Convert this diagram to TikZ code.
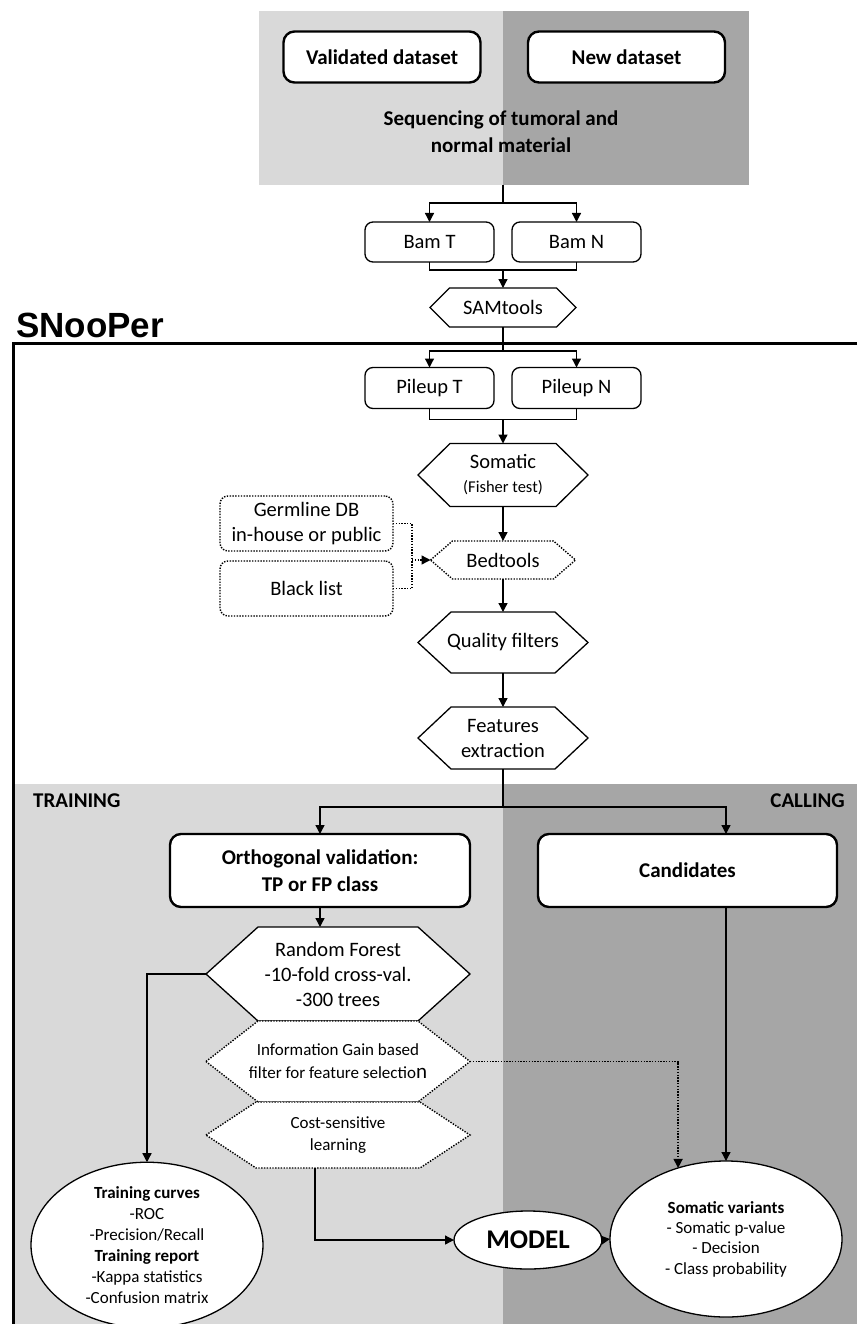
\documentclass[tikz,border=0pt]{standalone}
\usepackage{fontspec}
\setmainfont{Carlito}
\newfontfamily\headfont{Liberation Sans}
\usetikzlibrary{arrows.meta,calc,shapes.geometric}
\pgfdeclarelayer{back}
\pgfdeclarelayer{mid}
\pgfsetlayers{back,mid,main}
\definecolor{lightzone}{HTML}{D9D9D9}
\definecolor{darkzone}{HTML}{A6A6A6}

% hexagon outline around a named node: #2 = node, #3 = depth of the side points
\newcommand{\hexof}[3][]{%
  \begin{pgfonlayer}{mid}
    \draw[hexline,#1] (#2.west) -- ([xshift=#3]#2.north west) -- ([xshift=-#3]#2.north east)
      -- (#2.east) -- ([xshift=-#3]#2.south east) -- ([xshift=#3]#2.south west) -- cycle;
  \end{pgfonlayer}}

\begin{document}
\begin{tikzpicture}[x=1pt,y=-1pt,
  conn/.style={line width=1.3pt},
  arr/.style={conn,-{Triangle[length=9pt,width=9pt]}},
  fine dots/.style={line width=1.4pt,dash pattern=on 1.4pt off 1.4pt},
  dotarr/.style={fine dots,-{Triangle[length=9pt,width=9pt]}},
  dotconn/.style={fine dots},
  box/.style={draw,rounded corners=8pt,line width=1.3pt,fill=white,inner sep=0pt,outer sep=0pt,align=center},
  thickbox/.style={box,line width=2.4pt,rounded corners=11pt},
  dotbox/.style={box,fine dots},
  hexnode/.style={inner sep=0pt,outer sep=0pt,align=center},
  hexline/.style={draw,fill=white,line width=1.3pt},
  ovalnode/.style={ellipse,draw,fill=white,line width=1.3pt,inner sep=0pt,outer sep=0pt,align=center},
  txt/.style={font=\fontsize{20.5}{25}\selectfont},
  smalltxt/.style={font=\fontsize{17}{21}\selectfont},
  boldtxt/.style={font=\fontsize{21}{27}\selectfont\bfseries},
  leftcol/.style={fill=lightzone},
  rightcol/.style={fill=darkzone}]

\useasboundingbox (0,0) rectangle (857,1324);

% shaded zones
\begin{pgfonlayer}{back}
  \fill[leftcol]  (259,11) rectangle (503,185);
  \fill[rightcol] (503,11) rectangle (749,185);
  \fill[leftcol]  (13,784) rectangle (503,1324);
  \fill[rightcol] (503,784) rectangle (857,1324);
\end{pgfonlayer}

% SNooPer frame
\draw[line width=3pt,line join=miter] (857,343.5) -- (13.5,343.5) -- (13.5,1324);
\node[anchor=base west,inner sep=0pt,font=\headfont\bfseries\fontsize{35}{40}\selectfont] (snooper) at (16,337) {SNooPer};

% input data
\node[thickbox,boldtxt,minimum width=197pt,minimum height=51pt] (val) at (382,57) {Validated dataset};
\node[thickbox,boldtxt,minimum width=197pt,minimum height=51pt] (new) at (626.5,57) {New dataset};
\node[boldtxt,align=center,inner sep=0pt] (seq) at (501,131.5) {Sequencing of tumoral and\\normal material};
\coordinate (seqout) at (503,185);

\node[box,txt,minimum width=129pt,minimum height=40pt] (bamT) at (429.5,242) {Bam T};
\node[box,txt,minimum width=129pt,minimum height=40pt] (bamN) at (576.5,242) {Bam N};
\node[hexnode,txt,minimum width=146pt,minimum height=39pt] (sam) at (503,307.5) {SAMtools};
\hexof{sam}{19.5}

\draw[conn] (seqout) -- (503,203) coordinate (fork1);
\draw[arr] (fork1) -| (bamT.north);
\draw[arr] (fork1) -| (bamN.north);
\draw[conn] (bamT.south) -- ++(0,8) -| (bamN.south);
\draw[arr] (sam.north |- 0,270) -- (sam.north);

% pileups and somatic test
\node[box,txt,minimum width=129pt,minimum height=41pt] (pilT) at (429.5,388) {Pileup T};
\node[box,txt,minimum width=129pt,minimum height=41pt] (pilN) at (576.5,388) {Pileup N};
\draw[conn] (sam.south) -- (503,351) coordinate (fork2);
\draw[arr] (fork2) -| (pilT.north);
\draw[arr] (fork2) -| (pilN.north);
\draw[conn] (pilT.south) -- ++(0,11) -| (pilN.south);

\node[hexnode,minimum width=170pt,minimum height=63pt,font=\fontsize{20.5}{24}\selectfont] (som) at (503,475) {Somatic\\{\fontsize{16.5}{20}\selectfont (Fisher test)}};
\hexof{som}{32}
\draw[arr] (som.north |- 0,419.5) -- (som.north);

% filters
\node[hexnode,txt,minimum width=145pt,minimum height=38pt] (bed) at (503,560) {Bedtools};
\hexof[fine dots]{bed}{22}
\node[dotbox,txt,minimum width=173pt,minimum height=55pt] (germ) at (306.5,523.5) {Germline DB\\in-house or public};
\node[dotbox,txt,minimum width=173pt,minimum height=55pt] (black) at (306.5,588.5) {Black list};
\coordinate (merge) at (412,560);
\draw[dotconn] (germ.east) -| (merge);
\draw[dotconn] (black.east) -| (merge);
\draw[dotarr] (merge) -- (bed.west);
\draw[arr] (som.south) -- (bed.north);

\node[hexnode,txt,minimum width=170pt,minimum height=61pt] (qual) at (503,642.5) {Quality filters};
\hexof{qual}{33}
\node[hexnode,txt,minimum width=170pt,minimum height=62pt] (feat) at (503,738) {Features\\extraction};
\hexof{feat}{33}
\draw[arr] (bed.south) -- (qual.north);
\draw[arr] (qual.south) -- (feat.north);

% training / calling
\node[boldtxt,anchor=west,inner sep=0pt] (trn) at (33,801) {TRAINING};
\node[boldtxt,anchor=east,inner sep=0pt] (cll) at (845,801) {CALLING};

\node[thickbox,boldtxt,minimum width=300pt,minimum height=73pt] (ortho) at (320,870.5) {Orthogonal validation:\\TP or FP class};
\node[thickbox,boldtxt,minimum width=299pt,minimum height=73pt] (cand) at (687.5,870.5) {Candidates};

\node[hexnode,txt,minimum width=264pt,minimum height=94pt] (rf) at (338,974) {Random Forest\\-10-fold cross-val.\\-300 trees};
\hexof{rf}{52}
\node[hexnode,minimum width=264pt,minimum height=81pt,font=\fontsize{17}{23}\selectfont] (ig) at (338,1061.5) {Information Gain based\\filter for feature selectio{\fontsize{21}{23}\selectfont n}};
\hexof[fine dots]{ig}{52}
\node[hexnode,minimum width=264pt,minimum height=66pt,font=\fontsize{17}{22}\selectfont] (cost) at (338,1135) {Cost-sensitive\\learning};
\hexof[fine dots]{cost}{50}

\node[ovalnode,smalltxt,minimum width=232pt,minimum height=148pt] (tc) at (147,1245) {\textbf{Training curves}\\-ROC\\-Precision/Recall\\\textbf{Training report}\\-Kappa statistics\\-Confusion matrix};
\node[ovalnode,minimum width=148pt,minimum height=58pt,font=\fontsize{27}{30}\selectfont\bfseries] (model) at (528,1240) {MODEL};
\node[ovalnode,font=\fontsize{17}{20.3}\selectfont,minimum width=232pt,minimum height=156pt] (sv) at (726,1239) {\textbf{Somatic variants}\\- Somatic p-value\\- Decision\\- Class probability};

\draw[conn] (feat.south) -- (503,807) coordinate (fork3);
\draw[arr] (fork3) -| (ortho.north);
\draw[arr] (fork3) -| (cand.north -| sv.north);
\draw[arr] (ortho.south) -- (ortho.south |- rf.north);
\draw[arr] (rf.west) -| (tc.north);
\draw[arr] ([xshift=-23pt]cost.south) |- (model.west);
\draw[arr] (model.east) -- (sv.west);
\draw[dotarr] (ig.east) -| (sv.124.7);
\draw[arr] (cand.south -| sv.north) -- (sv.north);

\end{tikzpicture}
\end{document}
